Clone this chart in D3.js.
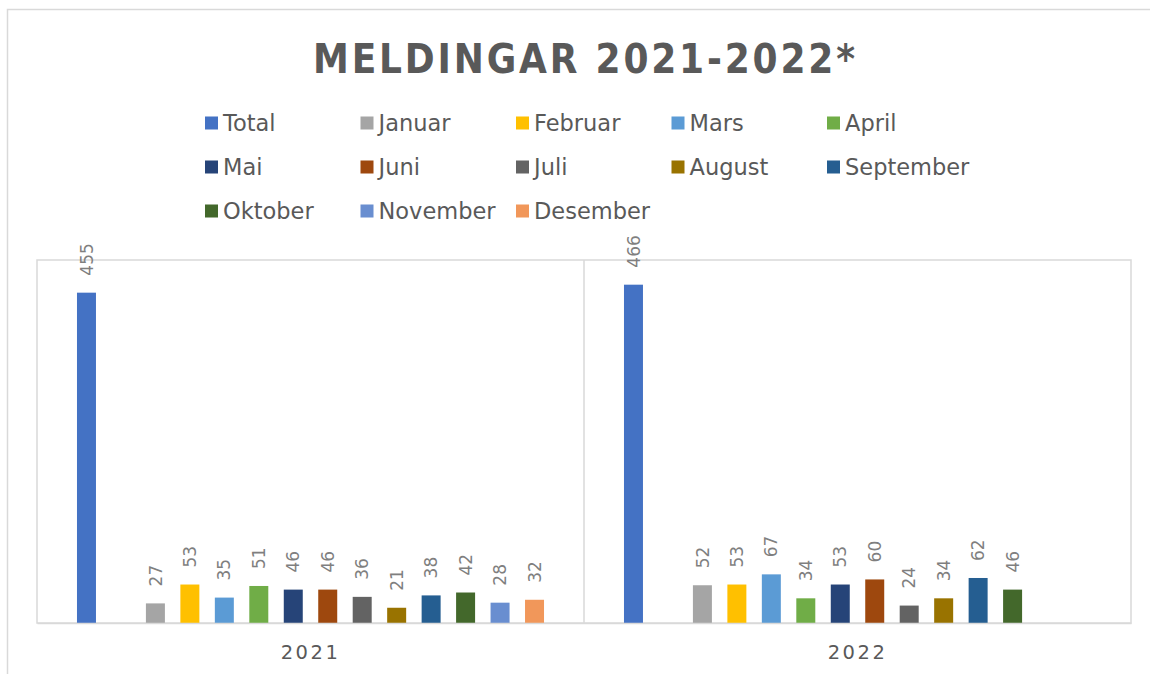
<!DOCTYPE html>
<html>
<head>
<meta charset="utf-8">
<script src="https://cdn.jsdelivr.net/npm/d3@7"></script>
<style>
  body { margin: 0; background: #fff; }
  svg { display: block; }
</style>
</head>
<body>
<div class="chart"></div>
<script>
// data
const years = ['2021', '2022'];
const seriesNames = ['Total', 'Januar', 'Februar', 'Mars', 'April', 'Mai', 'Juni',
  'Juli', 'August', 'September', 'Oktober', 'November', 'Desember'];
const seriesColors = ['#4472C4', '#A5A5A5', '#FFC000', '#5B9BD5', '#70AD47', '#264478', '#9E480E',
  '#636363', '#997300', '#255E91', '#43682B', '#698ED0', '#F1975A'];
const values2021 = [455, 27, 53, 35, 51, 46, 46, 36, 21, 38, 42, 28, 32];
const values2022 = [466, 52, 53, 67, 34, 53, 60, 24, 34, 62, 46, null, null];
const yTicks = [0, 500];

const width = 1150;
const height = 674;
const plot = { left: 37, top: 260, right: 1131, bottom: 623 };
const font = '"DejaVu Sans", sans-serif';

const svg = d3.select('.chart')
  .append('svg')
  .attr('width', width)
  .attr('height', height);

// outer chart border (runs off the right and bottom edge)
svg.append('rect')
  .attr('x', 7.5).attr('y', 9.5)
  .attr('width', 1300).attr('height', 800)
  .attr('fill', 'none')
  .attr('stroke', '#d9d9d9')
  .attr('stroke-width', 1.5);

// title
svg.append('text')
  .attr('x', 584)
  .attr('y', 73)
  .attr('text-anchor', 'middle')
  .attr('font-family', '"DejaVu Sans Condensed", "DejaVu Sans", sans-serif')
  .attr('font-weight', 'bold')
  .attr('font-size', 40)
  .attr('fill', '#595959')
  .attr('textLength', 542)
  .attr('lengthAdjust', 'spacing')
  .text('MELDINGAR 2021-2022*');

// legend, 5 per row
const legend = svg.append('g').attr('class', 'legend');
const legendItem = legend.selectAll('g')
  .data(seriesNames)
  .enter().append('g')
  .attr('transform', (d, k) => `translate(${205 + (k % 5) * 155.5},${123 + Math.floor(k / 5) * 44})`);

legendItem.append('rect')
  .attr('x', 0).attr('y', -6.5)
  .attr('width', 13).attr('height', 13)
  .attr('fill', (d, k) => seriesColors[k]);

legendItem.append('text')
  .attr('x', 18)
  .attr('dy', '0.36em')
  .attr('font-family', font)
  .attr('font-size', 22.5)
  .attr('fill', '#595959')
  .text((d) => d);

// scales
const x0 = d3.scaleBand()
  .domain(years)
  .range([plot.left, plot.right])
  .padding(0);

// one empty slot between Total and the months
const slots = ['Total', '_gap'].concat(seriesNames.slice(1));
const x1 = d3.scaleBand()
  .domain(slots)
  .range([0, x0.bandwidth()])
  .paddingInner(0.449)
  .paddingOuter(1.16);

const y = d3.scaleLinear()
  .domain(d3.extent(yTicks))
  .range([plot.bottom, plot.top]);

// plot area frame and category divider
const gridColor = '#d9d9d9';
svg.append('rect')
  .attr('x', plot.left).attr('y', plot.top)
  .attr('width', plot.right - plot.left)
  .attr('height', plot.bottom - plot.top)
  .attr('fill', 'none')
  .attr('stroke', gridColor)
  .attr('stroke-width', 1.5);

svg.append('g')
  .selectAll('line')
  .data(years.slice(1))
  .enter().append('line')
  .attr('x1', (d) => x0(d)).attr('x2', (d) => x0(d))
  .attr('y1', plot.top).attr('y2', plot.bottom)
  .attr('stroke', gridColor)
  .attr('stroke-width', 1.5);

// bars
const rows = years.map((yr, k) => ({
  year: yr,
  values: (k === 0 ? values2021 : values2022).map((v, s) => ({ name: seriesNames[s], value: v, color: seriesColors[s] }))
    .filter((d) => d.value != null)
}));

const group = svg.append('g')
  .selectAll('g.year')
  .data(rows)
  .enter().append('g')
  .attr('class', 'year')
  .attr('transform', (d) => `translate(${x0(d.year)},0)`);

group.selectAll('rect')
  .data((d) => d.values)
  .enter().append('rect')
  .attr('x', (d) => x1(d.name))
  .attr('y', (d) => y(d.value))
  .attr('width', x1.bandwidth())
  .attr('height', (d) => y(0) - y(d.value))
  .attr('fill', (d) => d.color);

// data labels, rotated
group.selectAll('text')
  .data((d) => d.values)
  .enter().append('text')
  .attr('transform', (d) => `translate(${x1(d.name) + x1.bandwidth() / 2},${y(d.value) - 17}) rotate(-90)`)
  .attr('dy', '0.36em')
  .attr('font-family', font)
  .attr('font-size', 17)
  .attr('fill', '#7f7f7f')
  .text((d) => d.value);

// category axis
const xAxis = svg.append('g')
  .attr('transform', `translate(0,${plot.bottom})`)
  .call(d3.axisBottom(x0).tickSize(0).tickSizeOuter(0).tickPadding(22));

xAxis.select('.domain')
  .attr('stroke', gridColor)
  .attr('stroke-width', 1.5);

xAxis.selectAll('text')
  .attr('font-family', font)
  .attr('font-size', 19.5)
  .attr('letter-spacing', 2.5)
  .attr('fill', '#595959');
</script>
</body>
</html>
